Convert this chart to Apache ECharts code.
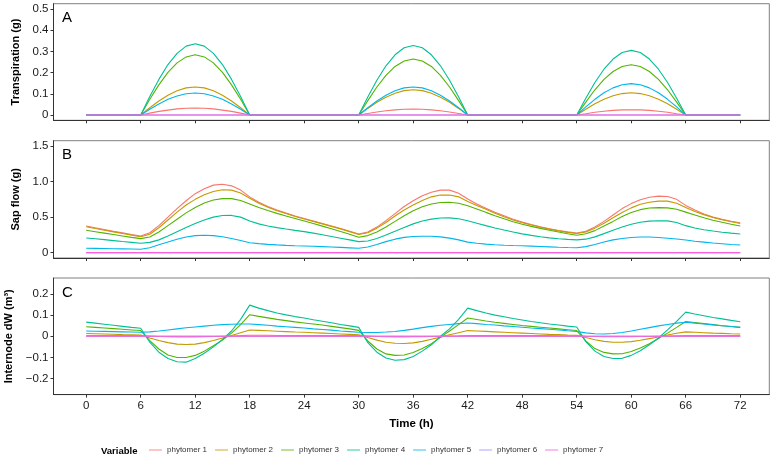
<!DOCTYPE html>
<html><head><meta charset="utf-8">
<script src="https://cdn.jsdelivr.net/npm/echarts@6/dist/echarts.min.js"></script>
<style>html,body{margin:0;padding:0;background:#fff}#c{width:776px;height:460px}</style>
</head><body><div id="c"></div>
<script>
const hours = [0,1,2,3,4,5,6,7,8,9,10,11,12,13,14,15,16,17,18,19,20,21,22,23,24,25,26,27,28,29,30,31,32,33,34,35,36,37,38,39,40,41,42,43,44,45,46,47,48,49,50,51,52,53,54,55,56,57,58,59,60,61,62,63,64,65,66,67,68,69,70,71,72];
const seriesNames = ['phytomer 1','phytomer 2','phytomer 3','phytomer 4','phytomer 5','phytomer 6','phytomer 7'];
const xTicks = [0,6,12,18,24,30,36,42,48,54,60,66,72];
const yTicksA = [0,0.1,0.2,0.3,0.4,0.5];
const yTicksB = [0,0.5,1.0,1.5];
const yTicksC = [-0.2,-0.1,0,0.1,0.2];

const zeros = [0,0,0,0,0,0,0,0,0,0,0,0,0,0,0,0,0,0,0,0,0,0,0,0,0,0,0,0,0,0,0,0,0,0,0,0,0,0,0,0,0,0,0,0,0,0,0,0,0,0,0,0,0,0,0,0,0,0,0,0,0,0,0,0,0,0,0,0,0,0,0,0,0];

// Panel A: transpiration (g)
const transp1 = [0,0,0,0,0,0, 0,.009,.017,.023,.029,.032,.033,.032,.029,.023,.017,.009,0, 0,0,0,0,0,0,0,0,0,0,0, 0,.007,.014,.020,.024,.027,.028,.027,.024,.020,.014,.007,0, 0,0,0,0,0,0,0,0,0,0,0, 0,.006,.013,.018,.022,.024,.025,.024,.022,.018,.013,.006,0, 0,0,0,0,0,0];
const transp2 = [0,0,0,0,0,0, 0,.034,.066,.093,.114,.128,.132,.128,.114,.093,.066,.034,0, 0,0,0,0,0,0,0,0,0,0,0, 0,.031,.060,.084,.103,.115,.119,.115,.103,.084,.060,.031,0, 0,0,0,0,0,0,0,0,0,0,0, 0,.027,.053,.074,.091,.101,.105,.101,.091,.074,.053,.027,0, 0,0,0,0,0,0];
const transp3 = [0,0,0,0,0,0, 0,.074,.142,.201,.246,.274,.284,.274,.246,.201,.142,.074,0, 0,0,0,0,0,0,0,0,0,0,0, 0,.068,.132,.187,.229,.255,.264,.255,.229,.187,.132,.068,0, 0,0,0,0,0,0,0,0,0,0,0, 0,.061,.119,.168,.205,.229,.237,.229,.205,.168,.119,.061,0, 0,0,0,0,0,0];
const transp4 = [0,0,0,0,0,0, 0,.087,.168,.238,.291,.325,.336,.325,.291,.238,.168,.087,0, 0,0,0,0,0,0,0,0,0,0,0, 0,.085,.164,.232,.284,.317,.328,.317,.284,.232,.164,.085,0, 0,0,0,0,0,0,0,0,0,0,0, 0,.079,.153,.216,.264,.295,.305,.295,.264,.216,.153,.079,0, 0,0,0,0,0,0];
const transp5 = [0,0,0,0,0,0, 0,.027,.052,.074,.090,.100,.104,.100,.090,.074,.052,.027,0, 0,0,0,0,0,0,0,0,0,0,0, 0,.034,.066,.093,.114,.128,.132,.128,.114,.093,.066,.034,0, 0,0,0,0,0,0,0,0,0,0,0, 0,.038,.074,.105,.128,.143,.148,.143,.128,.105,.074,.038,0, 0,0,0,0,0,0];

// Panel B: sap flow (g)
const sap1 = [.376,.35,.325,.3,.278,.256,.235, .28,.38,.50,.62,.73,.83,.90,.95,.962,.94,.88,.785, .71,.65,.6,.556,.516,.48,.445,.41,.375,.34,.302,.263, .29,.36,.45,.55,.65,.73,.80,.85,.88,.88,.835,.755, .685,.625,.57,.52,.47,.43,.395,.365,.337,.312,.292,.277, .30,.36,.44,.53,.62,.69,.745,.78,.795,.79,.75,.665, .60,.545,.5,.468,.443,.42];
const sap2 = [.365,.34,.316,.292,.27,.247,.225, .26,.35,.46,.57,.67,.75,.815,.86,.885,.88,.84,.765, .695,.64,.59,.55,.51,.474,.44,.405,.37,.335,.296,.255, .28,.345,.425,.515,.6,.67,.735,.785,.81,.81,.785,.72, .665,.61,.555,.505,.46,.42,.388,.358,.331,.306,.286,.27, .29,.345,.415,.49,.565,.63,.68,.71,.725,.725,.695,.635, .58,.535,.495,.462,.435,.41];
const sap3 = [.315,.295,.275,.255,.235,.215,.197, .22,.29,.38,.47,.56,.635,.7,.74,.76,.76,.735,.685, .635,.592,.553,.516,.481,.446,.41,.373,.336,.298,.258,.217, .24,.29,.36,.44,.52,.59,.645,.685,.705,.71,.695,.66, .615,.567,.52,.476,.436,.4,.37,.342,.315,.29,.266,.245, .265,.31,.375,.44,.51,.565,.605,.628,.634,.63,.61,.57, .53,.49,.457,.427,.4,.376];
const sap4 = [.207,.195,.183,.17,.157,.145,.132, .145,.18,.235,.295,.355,.41,.46,.5,.522,.524,.5,.445, .405,.375,.352,.332,.313,.296,.275,.252,.228,.204,.18,.155, .165,.2,.248,.3,.355,.405,.445,.472,.488,.49,.478,.45, .415,.38,.348,.318,.29,.264,.243,.224,.208,.196,.187,.18, .19,.222,.268,.315,.36,.4,.428,.444,.45,.447,.425,.38, .348,.322,.304,.288,.275,.263];
const sap5 = [.062,.06,.058,.056,.054,.051,.048, .07,.11,.15,.19,.22,.24,.245,.24,.225,.2,.17,.14, .127,.117,.109,.103,.098,.094,.09,.085,.08,.074,.068,.062, .08,.115,.155,.19,.215,.228,.232,.23,.222,.205,.18,.148, .132,.12,.111,.105,.1,.097,.092,.087,.082,.077,.073,.07, .085,.115,.15,.18,.2,.213,.22,.22,.213,.203,.192,.178, .16,.148,.135,.125,.115,.108];

// Panel C: internode dW (m3)
const dw1 = [.004,.004,.004,.003,.003,.003,.003, .001,-.001,-.002,-.003,-.003,-.003,-.002,-.001,0,.001,.003,.005, .005,.005,.004,.004,.004,.004,.004,.003,.003,.003,.003,.003, .001,-.001,-.002,-.003,-.003,-.002,-.002,-.001,0,.001,.002,.004, .004,.004,.004,.003,.003,.003,.003,.003,.003,.002,.002,.002, 0,-.001,-.002,-.002,-.002,-.002,-.001,-.001,0,.001,.002,.003, .003,.003,.003,.003,.003,.003];
const dw2 = [.013,.012,.011,.01,.008,.007,.006, -.008,-.02,-.03,-.037,-.039,-.037,-.03,-.02,-.008,.004,.017,.03, .028,.026,.024,.022,.02,.019,.017,.015,.013,.011,.009,.007, -.006,-.018,-.028,-.033,-.034,-.031,-.024,-.014,-.004,.007,.017,.027, .025,.023,.021,.019,.017,.015,.013,.011,.009,.008,.006,.005, -.006,-.016,-.024,-.028,-.028,-.025,-.019,-.011,-.003,.006,.014,.021, .019,.017,.015,.014,.012,.011];
const dw3 = [.045,.042,.039,.036,.033,.03,.027, -.02,-.06,-.088,-.1,-.1,-.09,-.07,-.045,-.018,.015,.055,.102, .094,.087,.08,.074,.068,.063,.058,.053,.047,.041,.035,.028, -.022,-.06,-.083,-.09,-.088,-.076,-.058,-.035,-.005,.025,.055,.086, .079,.072,.066,.061,.056,.051,.047,.043,.039,.035,.031,.027, -.022,-.058,-.076,-.083,-.082,-.072,-.055,-.035,-.01,.015,.042,.07, .065,.06,.055,.05,.046,.042];
const dw4 = [.067,.062,.057,.052,.047,.042,.038, -.028,-.075,-.105,-.12,-.122,-.105,-.08,-.05,-.015,.025,.08,.147, .133,.121,.11,.101,.093,.086,.078,.071,.064,.056,.049,.042, -.03,-.075,-.102,-.113,-.11,-.095,-.07,-.04,0,.035,.08,.133, .121,.11,.1,.092,.084,.077,.07,.064,.058,.053,.048,.044, -.025,-.07,-.095,-.105,-.104,-.09,-.068,-.04,-.008,.03,.07,.114, .105,.097,.089,.082,.075,.069];
const dw5 = [.025,.024,.023,.022,.021,.02,.019, .021,.025,.03,.035,.04,.044,.048,.052,.055,.057,.058,.058, .055,.052,.048,.045,.042,.039,.035,.032,.029,.025,.022,.019, .018,.018,.02,.023,.028,.034,.041,.047,.052,.056,.06,.063, .06,.056,.053,.049,.046,.043,.039,.036,.033,.03,.026,.023, .016,.012,.011,.013,.018,.025,.033,.041,.049,.056,.062,.066, .062,.058,.054,.05,.046,.042];

const colors = ['#F8766D','#C49A00','#53B400','#00C094','#00B6EB','#A58AFF','#FB61D7'];
const FONT = 'Liberation Sans, Arial, Helvetica, sans-serif';

const panels = [
  {label:'A', title:'Transpiration (g)', data:[transp1,transp2,transp3,transp4,transp5,zeros,zeros], min:-0.025, max:0.525, ticks:yTicksA, top:3.7, height:116.6},
  {label:'B', title:'Sap flow (g)', data:[sap1,sap2,sap3,sap4,sap5,zeros,zeros], min:-0.075, max:1.575, ticks:yTicksB, top:140.7, height:117.3},
  {label:'C', title:'Internode dW (m\u00b3)', data:[dw1,dw2,dw3,dw4,dw5,zeros,zeros], min:-0.275, max:0.275, ticks:yTicksC, top:278, height:116.6}
];

function fmt(v){
  if (Math.abs(v) < 1e-9) return '0';
  const s = Math.abs(v).toFixed(1);
  return (v < 0 ? '\u2212' : '') + s;
}

const grids = [], xAxes = [], yAxes = [], series = [], titles = [];
panels.forEach((p, i) => {
  grids.push({left:53.5, width:715.8, top:p.top, height:p.height, show:true, borderColor:'#808080', borderWidth:1, backgroundColor:'#fff', containLabel:false, outerBoundsMode:'none'});
  xAxes.push({
    type:'value', gridIndex:i, min:-3.6, max:75.2,
    axisLine:{show:true, onZero:false, lineStyle:{color:'#333', width:1}},
    axisTick:{show:true, length:3, customValues:xTicks, lineStyle:{color:'#333'}},
    axisLabel:{show:i===2, customValues:xTicks, color:'#1a1a1a', fontSize:11.5, fontFamily:FONT, margin:5},
    splitLine:{show:false},
    name: i===2 ? 'Time (h)' : '', nameLocation:'middle', nameGap:23,
    nameTextStyle:{fontWeight:'bold', fontSize:11.5, color:'#000', fontFamily:FONT}
  });
  yAxes.push({
    type:'value', gridIndex:i, min:p.min, max:p.max,
    axisLine:{show:true, onZero:false, lineStyle:{color:'#333', width:1}},
    axisTick:{show:true, length:3, customValues:p.ticks, lineStyle:{color:'#333'}},
    axisLabel:{customValues:p.ticks, formatter:fmt, color:'#1a1a1a', fontSize:11.5, fontFamily:FONT, margin:5},
    splitLine:{show:false},
    name:p.title, nameLocation:'middle', nameRotate:90, nameGap:31,
    nameTextStyle:{fontWeight:'bold', fontSize:11, color:'#000', fontFamily:FONT}
  });
  p.data.forEach((arr, k) => {
    series.push({
      name:seriesNames[k], type:'line', xAxisIndex:i, yAxisIndex:i,
      data: hours.map((h, j) => [h, arr[j]]),
      showSymbol:false, symbol:'none', smooth:false,
      lineStyle:{color:colors[k], width:1.1}, itemStyle:{color:colors[k]},
      animation:false, silent:true
    });
  });
  titles.push({text:p.label, left:57, top:p.top+2, textStyle:{fontSize:15, fontWeight:'normal', color:'#000', fontFamily:FONT}});
});
titles.push({text:'Variable', left:96, top:441, textStyle:{fontSize:9.5, fontWeight:'bold', color:'#000', fontFamily:FONT}});

const chart = echarts.init(document.getElementById('c'));
chart.setOption({
  animation:false,
  backgroundColor:'#fff',
  title:titles,
  grid:grids, xAxis:xAxes, yAxis:yAxes, series:series,
  legend:{
    data:seriesNames, left:149, top:446, padding:0, itemWidth:13, itemHeight:1.5, itemGap:8, icon:'rect',
    itemStyle:{opacity:0.55},
    textStyle:{fontSize:8, color:'#333', fontFamily:FONT}
  }
});
</script></body></html>
